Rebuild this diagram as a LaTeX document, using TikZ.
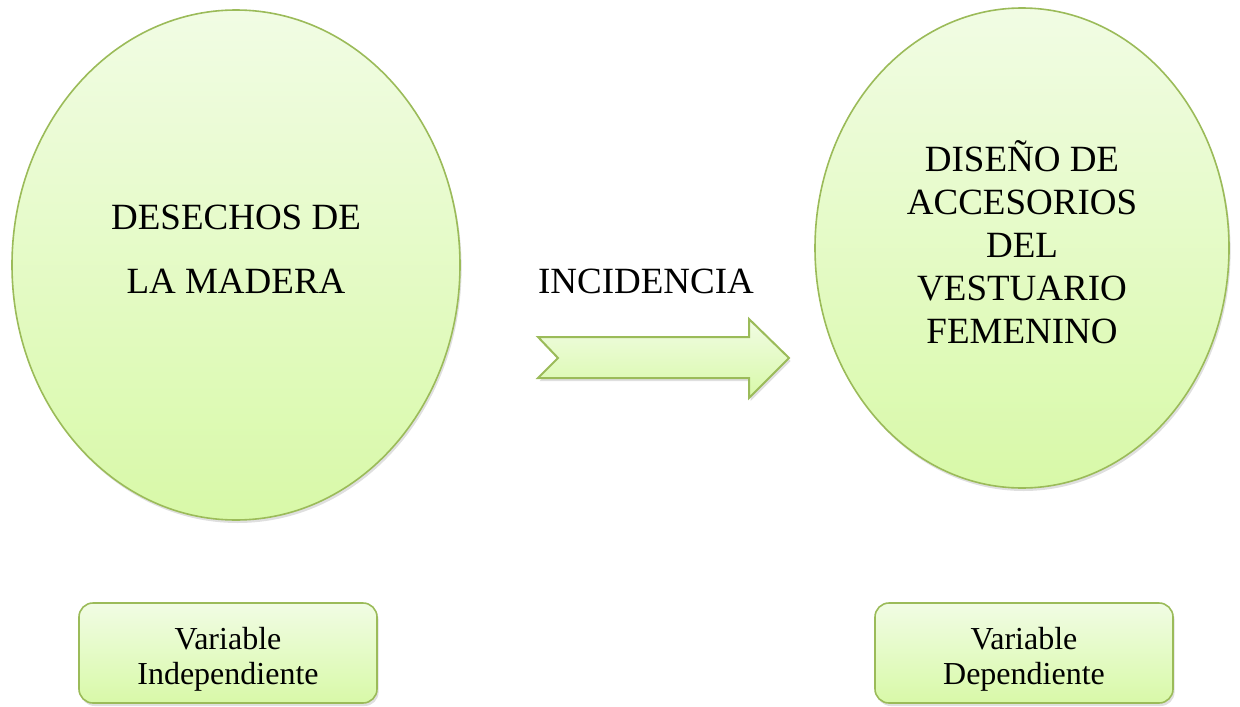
\documentclass[tikz,border=0pt]{standalone}
\usepackage{fontspec}
\setmainfont{Liberation Serif}
\usetikzlibrary{shapes.geometric,shadows}

\definecolor{verdeborde}{HTML}{9BBB59}
\definecolor{verdearriba}{HTML}{F1FCE4}
\definecolor{verdeabajo}{HTML}{D8F9A8}

\tikzset{
  relleno/.style={draw=verdeborde, line width=0.8pt, top color=verdearriba, bottom color=verdeabajo,
    drop shadow={shadow xshift=0.8pt, shadow yshift=-1.5pt, opacity=0.25}},
  ovalo/.style={relleno, ellipse, inner sep=0pt},
  caja/.style={relleno, rounded corners=7pt, minimum width=149pt, minimum height=50pt},
  texto/.style={align=center, inner sep=0pt}
}

\begin{document}
\begin{tikzpicture}[x=0.5pt,y=-0.5pt]

      \useasboundingbox (0,0) rectangle (1240,706);

      % Variablen
      \node[ovalo, minimum width=224pt, minimum height=255pt] (desechos) at (236,265) {};
      \node[texto, font=\fontsize{18.5}{32}\selectfont] (tdesechos) at (236,249) {DESECHOS DE\\LA MADERA};

      \node[ovalo, minimum width=207pt, minimum height=240pt] (diseno) at (1022,248) {};
      \node[texto, font=\fontsize{18.5}{21.5}\selectfont] (tdiseno) at (1022,242)
        {DISEÑO DE\\ACCESORIOS\\DEL\\VESTUARIO\\FEMENINO};

      % Flecha
      \draw[relleno, line width=1pt] (538,337) -- (749,337) -- (749,319) -- (789,358)
        -- (749,398) -- (749,378) -- (538,378) -- (558,358) -- cycle;
      \node[texto, font=\fontsize{18.5}{21.5}\selectfont] (incidencia) at (646,281) {INCIDENCIA};

      % Beschriftung
      \node[caja] (indep) at (228,653) {};
      \node[texto, font=\fontsize{16}{17.5}\selectfont] (tindep) at (228,659) {Variable\\Independiente};
      \node[caja] (dep) at (1024,653) {};
      \node[texto, font=\fontsize{16}{17.5}\selectfont] (tdep) at (1024,659) {Variable\\Dependiente};

\end{tikzpicture}
\end{document}
